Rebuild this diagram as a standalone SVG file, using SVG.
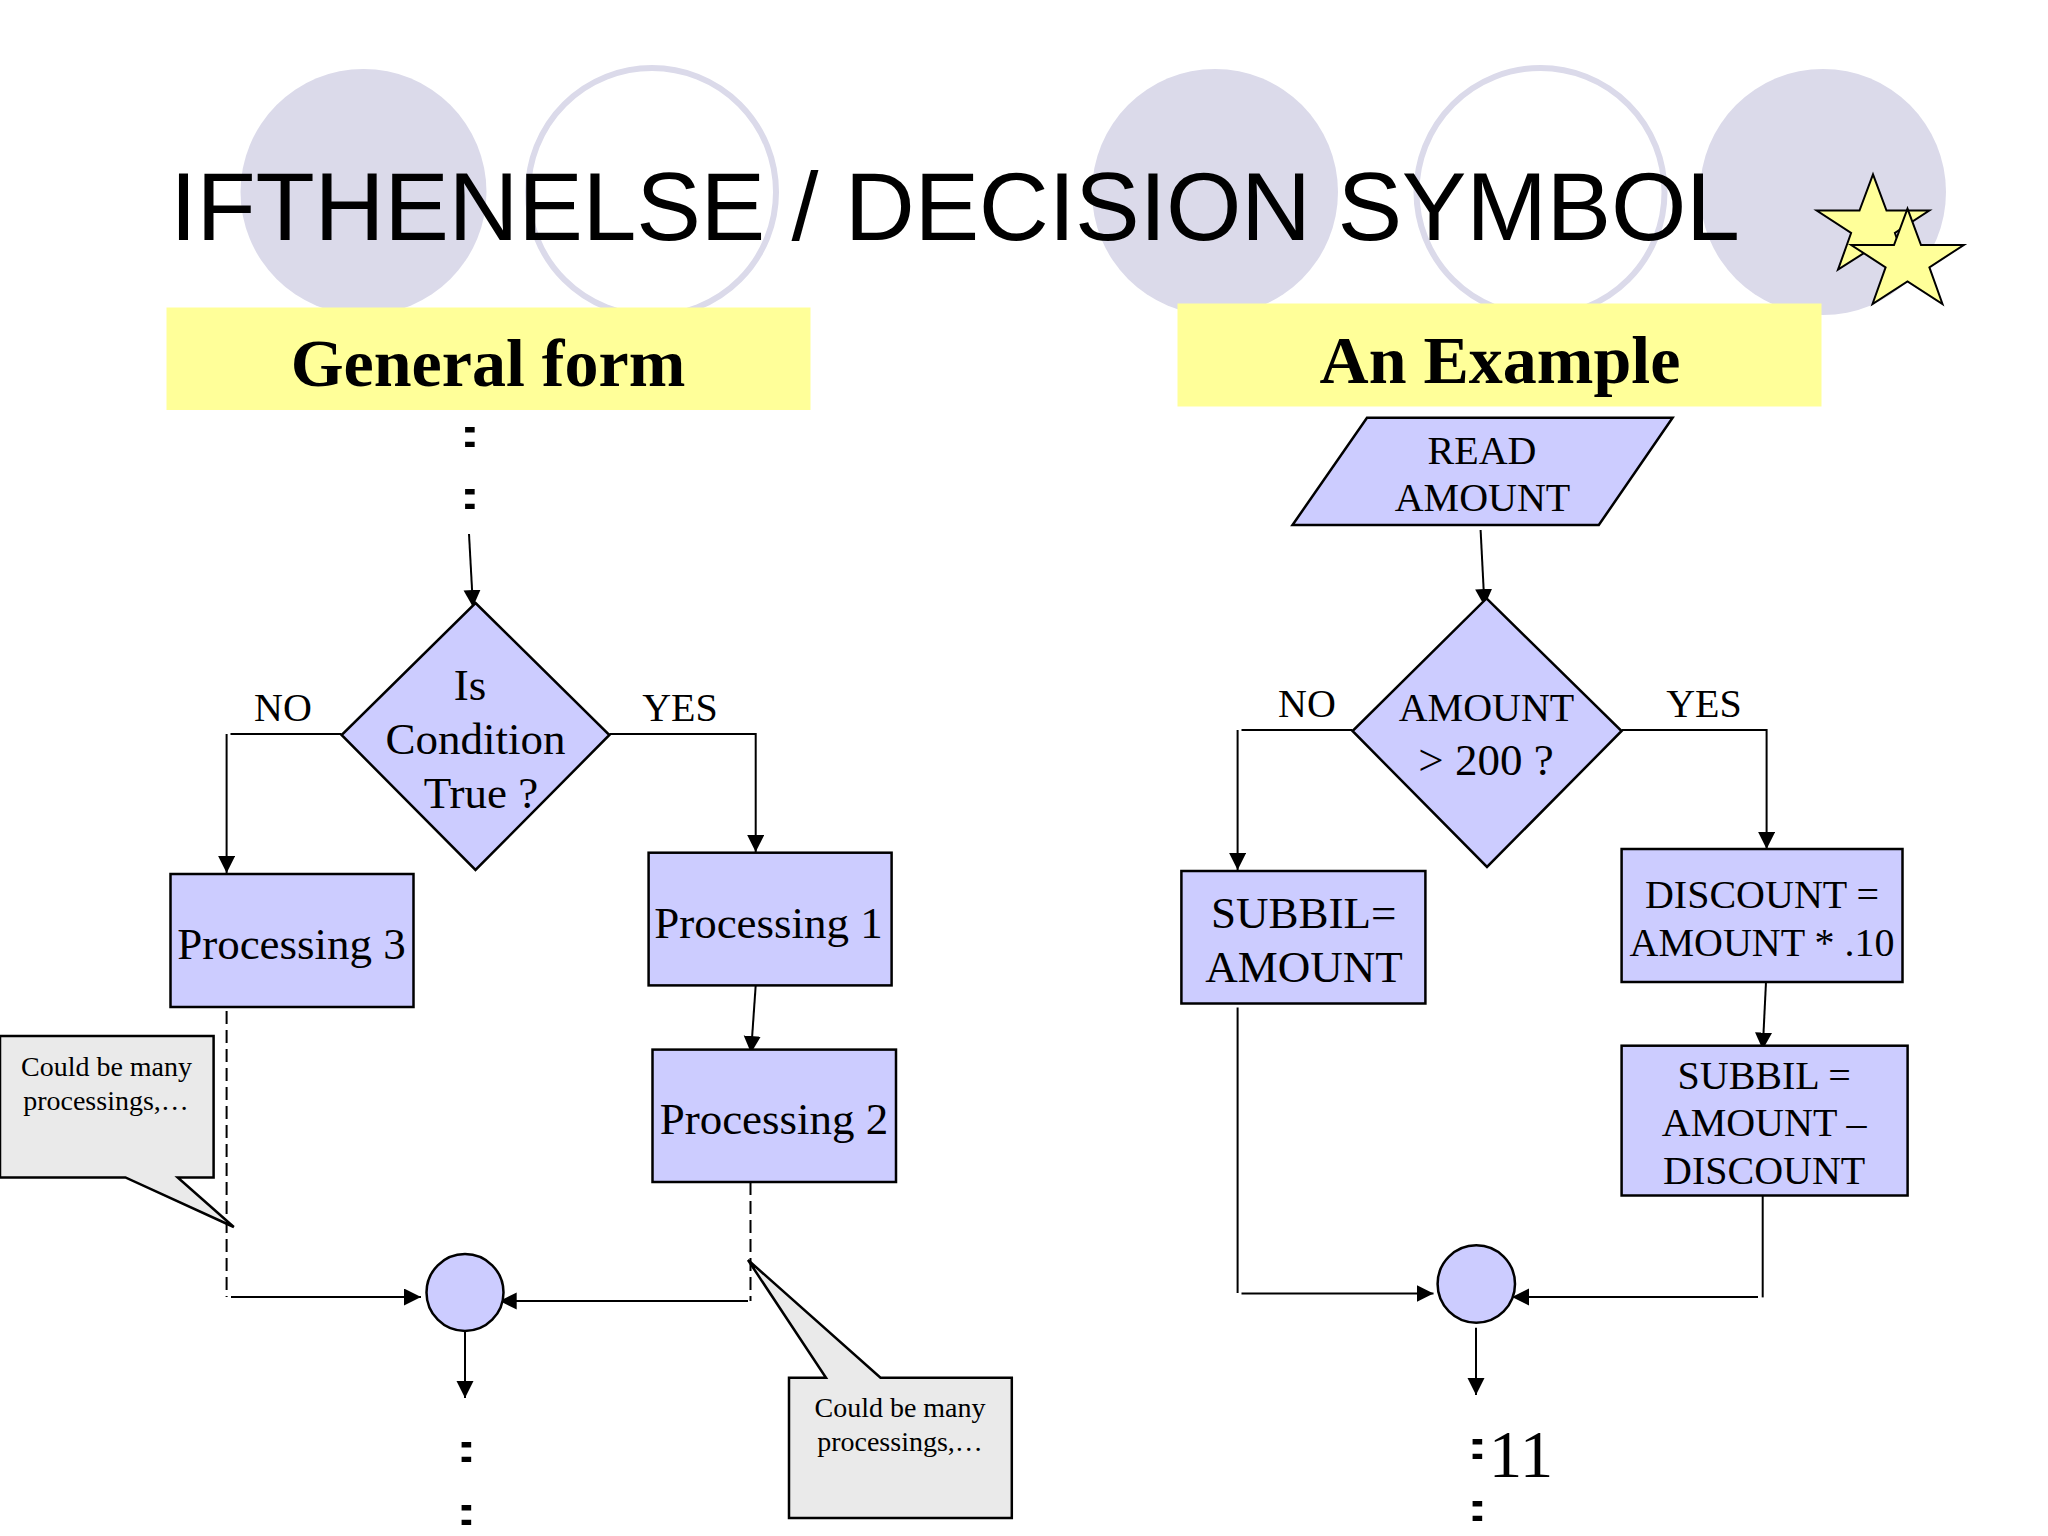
<svg xmlns="http://www.w3.org/2000/svg" width="2048" height="1536" viewBox="0 0 2048 1536">
<style>
.bg{fill:#DBDAEA}
.ring{fill:none;stroke:#DBDAEA;stroke-width:6}
.band{fill:#FFFF99}
.n{fill:#CCCCFF;stroke:#000;stroke-width:2.5}
.call{fill:#EAEAEA;stroke:#000;stroke-width:2.5}
.star{fill:#FFFF99;stroke:#000;stroke-width:2}
.c{fill:none;stroke:#000;stroke-width:2}
.dash{stroke-dasharray:13 6}
text{font-family:"Liberation Serif","Times New Roman",serif;fill:#000;text-anchor:middle}
.title{font-family:"Liberation Sans",Arial,sans-serif;font-size:97px;text-anchor:start;fill:#000}
.h{font-size:68px;font-weight:bold;fill:#000}
.t45{font-size:45px}
.t40{font-size:40px}
.t28{font-size:28px}
.dots{font-family:"Liberation Sans",Arial,sans-serif;font-weight:bold;font-size:38px;fill:#000}
</style>
<defs>
<marker id="a" markerUnits="userSpaceOnUse" markerWidth="20" markerHeight="20" refX="17" refY="8.500" orient="auto"><path d="M0 0L17 8.500L0 17Z" fill="#000"/></marker>
</defs>
<g id="background">
<circle class="bg" cx="363.500" cy="192" r="123"/>
<circle class="ring" cx="652" cy="192" r="124"/>
<circle class="bg" cx="1215" cy="192" r="123"/>
<circle class="ring" cx="1540.500" cy="192" r="124"/>
<circle class="bg" cx="1823" cy="192" r="123"/>
<polygon class="star" points="1873,174.400 1886.500,210.600 1929.300,210.600 1894.900,233 1908,269.700 1873,247.300 1838,269.700 1851.100,233 1816.700,210.600 1859.500,210.600"/>
<polygon class="star" points="1907.500,208.700 1921,245 1963.800,245 1929.400,267.300 1942.500,304 1907.500,281.500 1872.500,304 1885.600,267.300 1851.200,245 1894,245"/>
</g>
<text id="title" class="title" x="170" y="240" textLength="1570">IFTHENELSE / DECISION SYMBOL</text>
<g id="header-general"><rect class="band" x="166.500" y="307.500" width="644" height="102.500"/><text class="h" x="488" y="386">General form</text></g>
<g id="header-example"><rect class="band" x="1177.500" y="303.500" width="644" height="103"/><text class="h" x="1500" y="383">An Example</text></g>

<g id="connectors">
<path class="c" d="M469 534L473 607" marker-end="url(#a)"/>
<path class="c" d="M341.600 734H230.500"/>
<path class="c" d="M226.600 734V873" marker-end="url(#a)"/>
<path class="c" d="M609.400 734H755.700V852" marker-end="url(#a)"/>
<path class="c" d="M755.700 985.400L751 1053" marker-end="url(#a)"/>
<path class="c dash" d="M226.600 1011V1297"/>
<path class="c" d="M231 1297H421" marker-end="url(#a)"/>
<path class="c dash" d="M750.500 1182V1301"/>
<path class="c" d="M748 1301H499.700" marker-end="url(#a)"/>
<path class="c" d="M465 1331V1398" marker-end="url(#a)"/>
<path class="c" d="M1480.600 530L1484.500 606" marker-end="url(#a)"/>
<path class="c" d="M1352.500 730H1241.500"/>
<path class="c" d="M1237.600 730V870" marker-end="url(#a)"/>
<path class="c" d="M1621.600 730H1766.600V849" marker-end="url(#a)"/>
<path class="c" d="M1766 982L1762.700 1049.600" marker-end="url(#a)"/>
<path class="c" d="M1237.600 1007.500V1293"/>
<path class="c" d="M1241.500 1293.500H1433.500" marker-end="url(#a)"/>
<path class="c" d="M1762.700 1195.500V1297.400"/>
<path class="c" d="M1758 1297H1512" marker-end="url(#a)"/>
<path class="c" d="M1476 1327.700V1395" marker-end="url(#a)"/>
</g>

<g id="labels">
<text class="t40" x="283" y="720.500">NO</text>
<text class="t40" x="680" y="720.500">YES</text>
<text class="t40" x="1307" y="716.500">NO</text>
<text class="t40" x="1704" y="716.500">YES</text>
</g>

<g id="dots-top-1"><text class="dots" transform="translate(470 447) scale(1.8 1)" x="0" y="0">:</text></g>
<g id="dots-top-2"><text class="dots" transform="translate(470 509) scale(1.8 1)" x="0" y="0">:</text></g>
<g id="dots-bottom-1"><text class="dots" transform="translate(466.500 1462) scale(1.8 1)" x="0" y="0">:</text></g>
<g id="dots-bottom-2"><text class="dots" transform="translate(466.500 1524.500) scale(1.8 1)" x="0" y="0">:</text></g>
<g id="dots-bottom-3"><text class="dots" transform="translate(1477.500 1458.500) scale(1.8 1)" x="0" y="0">:</text></g>
<g id="dots-bottom-4"><text class="dots" transform="translate(1477.500 1521) scale(1.8 1)" x="0" y="0">:</text></g>

<g id="decision-general">
<polygon class="n" points="475.500,603 609.400,735 475.500,870 341.600,735"/>
<text class="t45" x="470" y="699.500">Is</text>
<text class="t45" x="475.500" y="754">Condition</text>
<text class="t45" x="481" y="808">True ?</text>
</g>
<g id="processing-3"><rect class="n" x="170.500" y="874" width="243" height="133"/><text class="t45" x="291.500" y="959">Processing 3</text></g>
<g id="processing-1"><rect class="n" x="648.600" y="852.700" width="243" height="132.700"/><text class="t45" x="768.500" y="938">Processing 1</text></g>
<g id="processing-2"><rect class="n" x="652.500" y="1049.600" width="243.500" height="132.400"/><text class="t45" x="774" y="1134">Processing 2</text></g>
<g id="merge-general"><circle class="n" cx="465" cy="1292.500" r="38.500"/></g>
<g id="callout-left">
<polygon class="call" points="0,1036 213.600,1036 213.600,1177.400 177.700,1177.400 233.800,1227 125.400,1177.400 0,1177.400"/>
<text class="t28" x="106.500" y="1075.500">Could be many</text>
<text class="t28" x="106" y="1110">processings,…</text>
</g>
<g id="callout-right">
<polygon class="call" points="748,1260 880.500,1377.700 1011.800,1377.700 1011.800,1518 789,1518 789,1377.700 826,1377.700"/>
<text class="t28" x="900" y="1417">Could be many</text>
<text class="t28" x="900" y="1451">processings,…</text>
</g>

<g id="read-amount">
<polygon class="n" points="1367,417.700 1672.600,417.700 1598.800,525 1292.500,525"/>
<text class="t40" x="1482" y="464">READ</text>
<text class="t40" x="1482.500" y="511">AMOUNT</text>
</g>
<g id="decision-example">
<polygon class="n" points="1486.500,598.400 1621.600,731 1487,867 1352.500,731"/>
<text class="t40" x="1486.500" y="721">AMOUNT</text>
<text class="t45" x="1486" y="775">&gt; 200 ?</text>
</g>
<g id="subbil-no"><rect class="n" x="1181.400" y="871" width="244" height="132.500"/>
<text class="t45" x="1303.600" y="927.500">SUBBIL=</text>
<text class="t45" x="1304" y="982">AMOUNT</text></g>
<g id="discount"><rect class="n" x="1621.600" y="849" width="280.900" height="133"/>
<text class="t40" x="1762" y="907.500">DISCOUNT =</text>
<text class="t40" x="1762" y="956">AMOUNT * .10</text></g>
<g id="subbil-yes"><rect class="n" x="1621.600" y="1045.700" width="286" height="149.800"/>
<text class="t40" x="1764.200" y="1088.800">SUBBIL =</text>
<text class="t40" x="1764.200" y="1136">AMOUNT –</text>
<text class="t40" x="1764.200" y="1184">DISCOUNT</text></g>
<g id="merge-example"><circle class="n" cx="1476.300" cy="1284" r="38.700"/></g>
<text id="page-number" x="1521" y="1477" font-size="67">11</text>
</svg>
